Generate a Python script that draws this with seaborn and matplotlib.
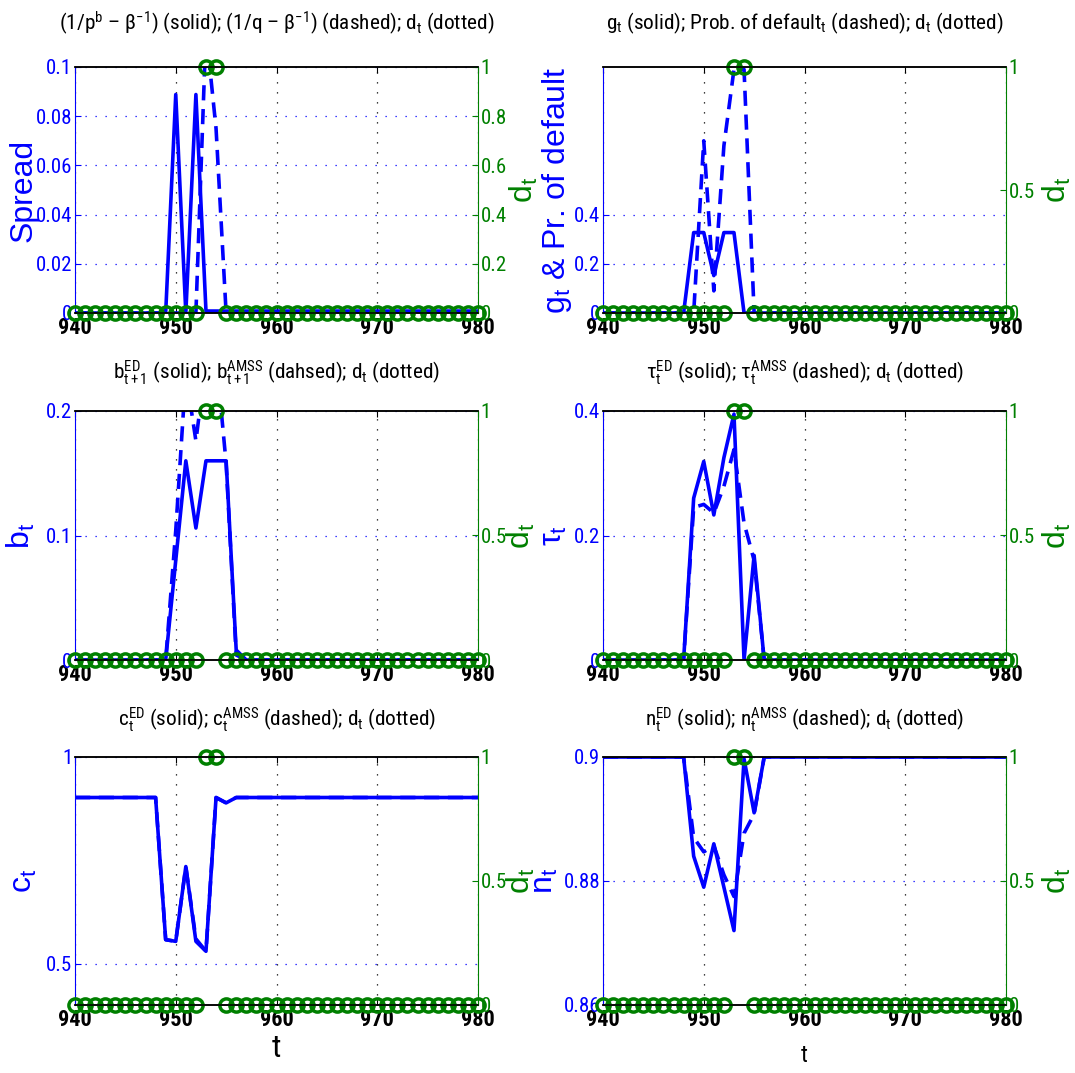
import numpy as np
import pandas as pd
import matplotlib
matplotlib.use("Agg")
import matplotlib.pyplot as plt
import matplotlib.font_manager as fm
import seaborn as sns
from matplotlib.ticker import FixedLocator, FuncFormatter

# ---------------- data ----------------
t = list(range(940, 981))

spread_pb = [0, 0, 0, 0, 0, 0, 0, 0, 0, 0, 0.0888, 0.0, 0.0888, 0.0008, 0.0008, 0.0008,
             0.0008, 0.0008, 0.0008, 0.0008, 0.0008, 0.0008, 0.0008, 0.0008, 0.0008, 0.0008,
             0.0008, 0.0008, 0.0008, 0.0008, 0.0008, 0.0008, 0.0008, 0.0008, 0.0008, 0.0008,
             0.0008, 0.0008, 0.0008, 0.0008, 0.0008]
spread_q = [0, 0, 0, 0, 0, 0, 0, 0, 0, 0, 0, 0, 0, 0.115, 0.075, 0,
            0, 0, 0, 0, 0, 0, 0, 0, 0, 0, 0, 0, 0, 0, 0, 0, 0, 0, 0, 0, 0, 0, 0, 0, 0]

g_solid = [0, 0, 0, 0, 0, 0, 0, 0, 0, 0.327, 0.327, 0.152, 0.327, 0.327, 0, 0,
           0, 0, 0, 0, 0, 0, 0, 0, 0, 0, 0, 0, 0, 0, 0, 0, 0, 0, 0, 0, 0, 0, 0, 0, 0]
prob_default = [0, 0, 0, 0, 0, 0, 0, 0, 0, 0, 0.70, 0.09, 0.68, 0.99, 0.99, 0,
                0, 0, 0, 0, 0, 0, 0, 0, 0, 0, 0, 0, 0, 0, 0, 0, 0, 0, 0, 0, 0, 0, 0, 0, 0]

b_ed = [0, 0, 0, 0, 0, 0, 0, 0, 0, 0, 0.08, 0.16, 0.106, 0.16, 0.16, 0.16, 0.008,
        0, 0, 0, 0, 0, 0, 0, 0, 0, 0, 0, 0, 0, 0, 0, 0, 0, 0, 0, 0, 0, 0, 0, 0]
b_amss = [0, 0, 0, 0, 0, 0, 0, 0, 0, 0, 0.104, 0.23, 0.176, 0.24, 0.245, 0.158, 0.004,
          0, 0, 0, 0, 0, 0, 0, 0, 0, 0, 0, 0, 0, 0, 0, 0, 0, 0, 0, 0, 0, 0, 0, 0]

tau_ed = [0, 0, 0, 0, 0, 0, 0, 0, 0, 0.26, 0.319, 0.233, 0.325, 0.395, 0, 0.168, 0,
          0, 0, 0, 0, 0, 0, 0, 0, 0, 0, 0, 0, 0, 0, 0, 0, 0, 0, 0, 0, 0, 0, 0, 0]
tau_amss = [0, 0, 0, 0, 0, 0, 0, 0, 0, 0.245, 0.25, 0.236, 0.279, 0.338, 0.22, 0.16, 0,
            0, 0, 0, 0, 0, 0, 0, 0, 0, 0, 0, 0, 0, 0, 0, 0, 0, 0, 0, 0, 0, 0, 0, 0]

c_ed = [0.902, 0.902, 0.902, 0.902, 0.902, 0.902, 0.902, 0.902, 0.902, 0.558, 0.554,
        0.735, 0.554, 0.530, 0.902, 0.889, 0.902, 0.902, 0.902, 0.902, 0.902, 0.902,
        0.902, 0.902, 0.902, 0.902, 0.902, 0.902, 0.902, 0.902, 0.902, 0.902, 0.902,
        0.902, 0.902, 0.902, 0.902, 0.902, 0.902, 0.902, 0.902]
c_amss = [0.902, 0.902, 0.902, 0.902, 0.902, 0.902, 0.902, 0.902, 0.902, 0.558, 0.554,
          0.735, 0.560, 0.530, 0.902, 0.889, 0.902, 0.902, 0.902, 0.902, 0.902, 0.902,
          0.902, 0.902, 0.902, 0.902, 0.902, 0.902, 0.902, 0.902, 0.902, 0.902, 0.902,
          0.902, 0.902, 0.902, 0.902, 0.902, 0.902, 0.902, 0.902]

n_ed = [0.9, 0.9, 0.9, 0.9, 0.9, 0.9, 0.9, 0.9, 0.9, 0.884, 0.879, 0.886, 0.879, 0.872,
        0.8997, 0.891, 0.9, 0.9, 0.9, 0.9, 0.9, 0.9, 0.9, 0.9, 0.9, 0.9, 0.9, 0.9, 0.9,
        0.9, 0.9, 0.9, 0.9, 0.9, 0.9, 0.9, 0.9, 0.9, 0.9, 0.9, 0.9]
n_amss = [0.9, 0.9, 0.9, 0.9, 0.9, 0.9, 0.9, 0.9, 0.9, 0.887, 0.8847, 0.8857, 0.881, 0.8775,
          0.8877, 0.8908, 0.9, 0.9, 0.9, 0.9, 0.9, 0.9, 0.9, 0.9, 0.9, 0.9, 0.9, 0.9, 0.9,
          0.9, 0.9, 0.9, 0.9, 0.9, 0.9, 0.9, 0.9, 0.9, 0.9, 0.9, 0.9]

d_t = [0, 0, 0, 0, 0, 0, 0, 0, 0, 0, 0, 0, 0, 1, 1, 0,
       0, 0, 0, 0, 0, 0, 0, 0, 0, 0, 0, 0, 0, 0, 0, 0, 0, 0, 0, 0, 0, 0, 0, 0, 0]

x_ticks = [940, 950, 960, 970, 980]

titles = [
    r"(1/p$^{\rm b}$ – β$^{-1}$) (solid); (1/q – β$^{-1}$) (dashed); d$_{\rm t}$ (dotted)",
    r"g$_{\rm t}$ (solid); Prob. of default$_{\rm t}$ (dashed); d$_{\rm t}$ (dotted)",
    r"b$^{\rm ED}_{\rm t+1}$ (solid); b$^{\rm AMSS}_{\rm t+1}$ (dahsed); d$_{\rm t}$ (dotted)",
    r"τ$^{\rm ED}_{\rm t}$ (solid); τ$^{\rm AMSS}_{\rm t}$ (dashed); d$_{\rm t}$ (dotted)",
    r"c$^{\rm ED}_{\rm t}$ (solid); c$^{\rm AMSS}_{\rm t}$ (dashed); d$_{\rm t}$ (dotted)",
    r"n$^{\rm ED}_{\rm t}$ (solid); n$^{\rm AMSS}_{\rm t}$ (dashed); d$_{\rm t}$ (dotted)",
]
left_labels = ["Spread", r"$\mathsf{g}_\mathsf{t}$ & Pr. of default", r"$\mathsf{b}_\mathsf{t}$",
               r"$\mathsf{\tau}_\mathsf{t}$", r"$\mathsf{c}_\mathsf{t}$", r"$\mathsf{n}_\mathsf{t}$"]
solid_series = [spread_pb, g_solid, b_ed, tau_ed, c_ed, n_ed]
dashed_series = [spread_q, prob_default, b_amss, tau_amss, c_amss, n_amss]
left_ylims = [(0, 0.1), (0, 1.0), (0, 0.2), (0, 0.4), (0.4, 1.0), (0.86, 0.9)]
left_ticks = [[0, 0.02, 0.04, 0.06, 0.08, 0.1], [0, 0.2, 0.4], [0, 0.1, 0.2],
              [0, 0.2, 0.4], [0.5, 1.0], [0.86, 0.88, 0.9]]
right_ticks = [[0, 0.2, 0.4, 0.6, 0.8, 1.0], [0, 0.5, 1], [0, 0.5, 1],
               [0, 0.5, 1], [0, 0.5, 1], [0, 0.5, 1]]

# ---------------- fonts: prefer a narrow sans (MATLAB Helvetica-Narrow look) ----------------
entries = [(f.name, str(f.stretch), f.style, f.weight) for f in fm.fontManager.ttflist]
cond_words = ("condensed", "semi-condensed", "extra-condensed", "ultra-condensed", "narrow")
NARROW, STRETCH = "Liberation Sans", "normal"
for cand in ("Liberation Sans Narrow", "Arial Narrow", "Roboto Condensed",
             "Noto Sans Condensed", "DejaVu Sans Condensed", "Open Sans Condensed"):
    if any(e[0] == cand for e in entries):
        NARROW, STRETCH = cand, "normal"
        break
else:
    for fam in ("Roboto", "Noto Sans", "DejaVu Sans", "Open Sans", "Liberation Sans"):
        hits = [e for e in entries if e[0] == fam and e[1] in cond_words and e[2] == "normal"]
        if hits:
            NARROW, STRETCH = fam, hits[0][1]
            break

WIDE = "Liberation Sans"
plt.rcParams["font.family"] = [NARROW, "DejaVu Sans"]
plt.rcParams["font.stretch"] = STRETCH
plt.rcParams["mathtext.fontset"] = "custom"
pat = NARROW if STRETCH == "normal" else NARROW + ":stretch=" + STRETCH
plt.rcParams["mathtext.rm"] = pat
plt.rcParams["mathtext.it"] = pat
plt.rcParams["mathtext.bf"] = NARROW + ":bold"
plt.rcParams["mathtext.sf"] = WIDE

BLUE = (0, 0, 1)
GREEN = (0, 0.5, 0)

fig = plt.figure(figsize=(10.75, 10.73), dpi=100)
W, H = 1075.0, 1073.0
col_left = [75, 603]
col_w = 403
rows = [(67, 313), (411, 660), (757, 1005)]
title_pad = [27, 23, 22]

label_x = [(-0.09, 1.074), (-0.072, 1.087), (-0.095, 1.067), (-0.085, 1.087),
           (-0.09, 1.067), (-0.107, 1.087)]

fmt = FuncFormatter(lambda v, p: ("%g" % round(v, 4)))
DOT = (0, (1.0, 7.0))
TICK_FS = 15

axes_left = []
for k in range(6):
    r, c = divmod(k, 2)
    top, bot = rows[r]
    ax = fig.add_axes([col_left[c] / W, 1 - bot / H, col_w / W, (bot - top) / H])
    axes_left.append(ax)
    df = pd.DataFrame({"t": t, "solid": solid_series[k], "dashed": dashed_series[k], "d": d_t})

    sns.lineplot(data=df, x="t", y="solid", ax=ax, color=BLUE, linewidth=2.6,
                 legend=False, estimator=None)
    sns.lineplot(data=df, x="t", y="dashed", ax=ax, color=BLUE, linewidth=2.6,
                 linestyle=(0, (4.2, 2.4)), legend=False, estimator=None)
    ax.set_xlim(940, 980)
    ax.set_ylim(*left_ylims[k])
    ax.xaxis.set_major_locator(FixedLocator(x_ticks))
    ax.yaxis.set_major_locator(FixedLocator(left_ticks[k]))
    ax.yaxis.set_major_formatter(fmt)
    ax.grid(axis="x", color="black", linestyle=DOT, linewidth=0.9)
    ax.grid(axis="y", color=BLUE, linestyle=DOT, linewidth=0.9)
    ax.set_axisbelow(True)
    ax.tick_params(axis="x", direction="in", top=True, length=4, labelsize=TICK_FS + 1,
                   colors="black", pad=3)
    ax.tick_params(axis="y", direction="in", length=4, labelsize=TICK_FS, colors=BLUE, pad=2)
    for lab in ax.get_xticklabels():
        lab.set_fontweight("bold")
    ax.spines["left"].set_color(BLUE)
    ax.spines["right"].set_visible(False)
    for s in ("top", "bottom"):
        ax.spines[s].set_color("black")
        ax.spines[s].set_linewidth(1.1)
    ax.spines["left"].set_linewidth(0.8)
    ax.set_xlabel("")
    ax.set_ylabel(left_labels[k], color=BLUE, fontsize=23, fontfamily=WIDE,
                  fontstretch="normal")
    ax.yaxis.set_label_coords(label_x[k][0], 0.5)
    ax.set_title(titles[k], fontsize=16, pad=title_pad[r])

    ax2 = ax.twinx()
    sns.lineplot(data=df, x="t", y="d", ax=ax2, color=GREEN, linestyle="none",
                 marker="o", markersize=9.5, markerfacecolor="none",
                 markeredgecolor=GREEN, markeredgewidth=2.5, clip_on=False,
                 legend=False, estimator=None)
    ax2.set_ylim(0, 1)
    ax2.yaxis.set_major_locator(FixedLocator(right_ticks[k]))
    ax2.yaxis.set_major_formatter(fmt)
    ax2.tick_params(axis="y", direction="in", length=4, labelsize=TICK_FS, colors=GREEN, pad=2)
    ax2.spines["left"].set_visible(False)
    ax2.spines["right"].set_color(GREEN)
    ax2.spines["right"].set_linewidth(0.8)
    for s in ("top", "bottom"):
        ax2.spines[s].set_color("black")
        ax2.spines[s].set_linewidth(1.1)
    ax2.set_ylabel(r"$\mathsf{d}_\mathsf{t}$", color=GREEN, fontsize=23)
    ax2.yaxis.set_label_coords(label_x[k][1], 0.5)
    ax2.set_xlabel("")

    if r == 2:
        if c == 0:
            ax.set_xlabel("t", fontsize=23, labelpad=2)
        else:
            ax.set_xlabel("t", fontsize=17, labelpad=9)

# scale title size so that the first title spans about the reference width
fig.canvas.draw()
ren = fig.canvas.get_renderer()
w0 = axes_left[0].title.get_window_extent(ren).width
if w0 > 0:
    fs = 16 * 435.0 / w0
    for ax in axes_left:
        ax.title.set_fontsize(fs)

fig.savefig("out.png", dpi=100)
